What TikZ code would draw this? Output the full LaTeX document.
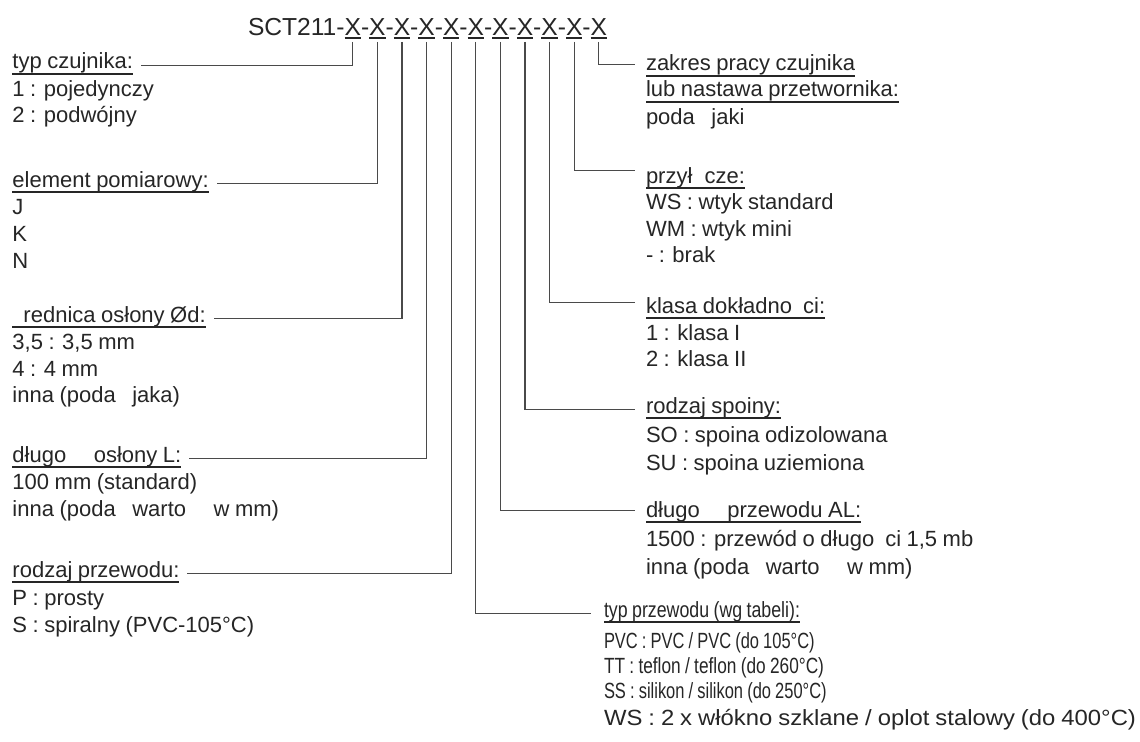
\documentclass[tikz,border=0pt]{standalone}
\usepackage{graphicx}
\usepackage{fontspec}
\setmainfont{Liberation Sans}[WordSpace=0.9]
\usetikzlibrary{calc}
\definecolor{ink}{HTML}{262626}
\definecolor{wirec}{HTML}{4A4A4A}
\newsavebox\ulbox
\newcommand\ulin[1]{\sbox\ulbox{#1}\rlap{\rule[-4.6pt]{\wd\ulbox}{1.4pt}}\usebox\ulbox}
\newcommand\ulx[1]{\sbox\ulbox{#1}\rlap{\rule[-2.4pt]{\wd\ulbox}{1.5pt}}\usebox\ulbox}
\newcommand\bodyf{\fontsize{16.5pt}{19pt}\selectfont}
\newcommand\titlef{\fontsize{18.45pt}{22pt}\selectfont}
\newcommand\hfit[2]{\resizebox{#1}{\height}{#2}}
\tikzset{
  txt/.style={anchor=base west, inner sep=0pt, outer sep=0pt, font=\bodyf, text=ink},
  ttl/.style={anchor=base west, inner sep=0pt, outer sep=0pt, font=\titlef, text=ink},
  wire/.style={draw=wirec, line width=0.9pt},
}
\begin{document}
\begin{tikzpicture}[x=0.75pt,y=-0.75pt]
\fill[white] (0,0) rectangle (1140,742);
\useasboundingbox (0,0) rectangle (1140,742);
% title
\node[ttl] (x0) at (248,35.5) {SCT211};
\foreach \i in {1,...,11}{
  \pgfmathtruncatemacro\p{\i-1}
  \node[ttl] (d\i) at (x\p.base east) {-};
  \node[ttl] (x\i) at (d\i.base east) {\ulx{X}};
}
% left column
\node[txt] (h1) at (12.5,69) {\ulin{typ czujnika:}};
\node[txt] (h1a) at (12.5,96.5) {1 : pojedynczy};
\node[txt] (h1b) at (12.5,122.5) {2 : podwójny};
\node[txt] (h2) at (12.5,187) {\ulin{element pomiarowy:}};
\node[txt] (h2a) at (12.5,214.5) {J};
\node[txt] (h2b) at (12.5,241.5) {K};
\node[txt] (h2c) at (12.5,268.5) {N};
\node[txt] (h3) at (12.5,322) {\ulin{\phantom{ś}rednica osłony Ød:}};
\node[txt] (h3a) at (12.5,349.5) {3,5 : 3,5 mm};
\node[txt] (h3b) at (12.5,376.5) {4 : 4 mm};
\node[txt] (h3c) at (12.5,402.5) {inna (poda\phantom{ć} jaka)};
\node[txt] (h4) at (12.5,462) {\ulin{długo\phantom{ść} osłony L:}};
\node[txt] (h4a) at (12.5,489.5) {100 mm (standard)};
\node[txt] (h4b) at (12.5,516.5) {inna (poda\phantom{ć} warto\phantom{ść} w mm)};
\node[txt] (h5) at (12.5,577) {\ulin{rodzaj przewodu:}};
\node[txt] (h5a) at (12.5,605.5) {P : prosty};
\node[txt] (h5b) at (12.5,632.5) {S : spiralny (PVC-105°C)};
% right column
\node[txt] (r1) at (646,71) {\ulin{zakres pracy czujnika}};
\node[txt] (r1a) at (646,97) {\ulin{lub nastawa przetwornika:}};
\node[txt] (r1b) at (646,124.5) {poda\phantom{ć} jaki};
\node[txt] (r2) at (646,183) {\ulin{przył\phantom{ą}cze:}};
\node[txt] (r2a) at (646,209.5) {WS : wtyk standard};
\node[txt] (r2b) at (646,236.5) {WM : wtyk mini};
\node[txt] (r2c) at (646,262.5) {- : brak};
\node[txt] (r3) at (646,313) {\ulin{klasa dokładno\phantom{ś}ci:}};
\node[txt] (r3a) at (646,340.5) {1 : klasa I};
\node[txt] (r3b) at (646,366.5) {2 : klasa II};
\node[txt] (r4) at (646,413) {\ulin{rodzaj spoiny:}};
\node[txt] (r4a) at (646,442.5) {SO : spoina odizolowana};
\node[txt] (r4b) at (646,470.5) {SU : spoina uziemiona};
\node[txt] (r5) at (646,517) {\ulin{długo\phantom{ść} przewodu AL:}};
\node[txt] (r5a) at (646,546.5) {1500 : przewód o długo\phantom{ś}ci 1,5 mb};
\node[txt] (r5b) at (646,574.5) {inna (poda\phantom{ć} warto\phantom{ść} w mm)};
\node[txt] (r6) at (604,617) {\hfit{147pt}{\ulin{typ przewodu (wg tabeli):}}};
\node[txt] (r6a) at (604,648.5) {\hfit{158pt}{PVC : PVC / PVC (do 105°C)}};
\node[txt] (r6b) at (604,673.5) {\hfit{165pt}{TT : teflon / teflon (do 260°C)}};
\node[txt] (r6c) at (604,698.5) {\hfit{167pt}{SS : silikon / silikon (do 250°C)}};
\node[txt] (r6d) at (604,725.5) {\hfit{399pt}{WS : 2 x włókno szklane / oplot stalowy (do 400°C)}};
% connectors left
\draw[wire] ([yshift=-2.4pt]x1.south) |- ([xshift=6pt]h1.mid east);
\draw[wire] ([yshift=-2.4pt]x2.south) |- ([xshift=6pt]h2.mid east);
\draw[wire] ([yshift=-2.4pt]x3.south) |- ([xshift=6pt]h3.mid east);
\draw[wire] ([yshift=-2.4pt]x4.south) |- ([xshift=6pt]h4.mid east);
\draw[wire] ([yshift=-2.4pt]x5.south) |- ([xshift=6pt]h5.mid east);
% connectors right
\draw[wire] ([yshift=-2.4pt]x6.south) |- ([xshift=-10pt]r6.mid west);
\draw[wire] ([yshift=-2.4pt]x7.south) |- ([xshift=-8pt,yshift=2.5pt]r5.mid west);
\draw[wire] ([yshift=-2.4pt]x8.south) |- ([xshift=-8pt]r4.mid west);
\draw[wire] ([yshift=-2.4pt]x9.south) |- ([xshift=-8pt,yshift=5.5pt]r3.mid west);
\draw[wire] ([yshift=-2.4pt]x10.south) |- ([xshift=-8pt,yshift=7pt]r2.mid west);
\draw[wire] ([yshift=-2.4pt]x11.south) |- ([xshift=-8pt,yshift=2pt]r1.mid west);
\end{tikzpicture}
\end{document}
